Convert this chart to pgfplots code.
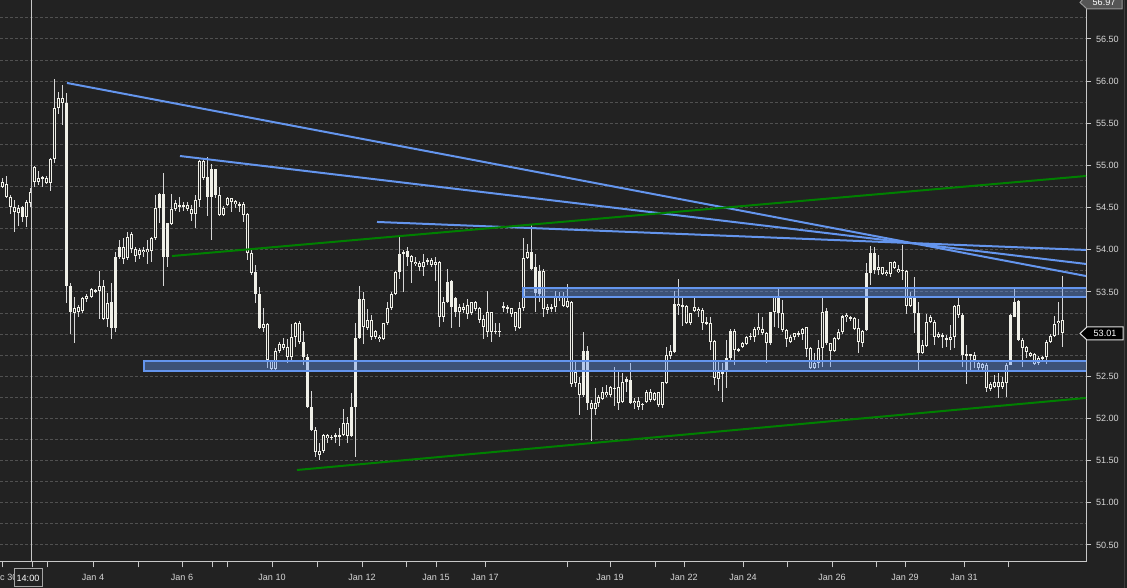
\documentclass[border=0pt]{standalone}
\usepackage{pgfplots}
\pgfplotsset{compat=1.18}
\usepackage{pgfplotstable}
\usepackage{fontspec}
\setmainfont{Liberation Sans}

\definecolor{bg}{RGB}{34,34,34}
\definecolor{gridc}{RGB}{80,80,80}
\definecolor{axisc}{RGB}{200,200,200}
\definecolor{labc}{RGB}{215,215,215}
\definecolor{wick}{RGB}{215,215,215}
\definecolor{body}{RGB}{240,240,232}
\definecolor{tline}{RGB}{100,149,237}
\definecolor{gline}{RGB}{0,128,0}
\definecolor{boxline}{RGB}{165,165,165}
\definecolor{lastline}{RGB}{225,225,225}
\definecolor{topfill}{RGB}{85,85,85}
\definecolor{topline}{RGB}{150,150,150}
\definecolor{edge}{RGB}{60,60,60}

% x = bar position on the time axis, o h l c = open high low close, f = filled body
\pgfplotstableread{
x o h l c f
3 54.80 54.85 54.73 54.74 0
7 54.78 54.88 54.61 54.63 0
11 54.63 54.65 54.42 54.51 0
15 54.51 54.59 54.21 54.45 0
19 54.44 54.53 54.28 54.50 0
23 54.51 54.52 54.33 54.39 1
27 54.39 54.59 54.27 54.57 0
31 54.55 54.73 54.51 54.69 0
35 54.80 54.99 54.74 54.98 0
39 54.85 54.93 54.77 54.80 0
43 54.84 54.87 54.74 54.86 0
47 54.85 54.87 54.78 54.79 0
51 54.79 55.09 54.70 55.08 0
55 55.08 56.03 55.03 55.68 0
59 55.68 55.87 55.61 55.80 0
63 55.80 55.95 55.48 55.74 0
67 55.74 55.86 53.37 53.57 1
71 53.57 53.61 53.00 53.26 1
75 53.25 53.44 52.90 53.31 0
79 53.26 53.35 53.20 53.32 0
83 53.27 53.44 53.25 53.43 0
87 53.42 53.48 53.38 53.45 0
91 53.44 53.55 53.43 53.54 0
95 53.52 53.54 53.49 53.51 0
99 53.51 53.75 53.18 53.57 0
103 53.57 53.64 53.17 53.18 0
107 53.18 53.49 53.08 53.37 0
111 53.38 53.61 52.94 53.07 1
115 53.07 53.97 53.03 53.92 1
119 53.92 54.12 53.89 54.03 1
123 54.03 54.14 53.83 53.89 0
127 53.90 54.21 53.88 54.15 0
131 54.19 54.21 53.96 54.01 0
135 54.01 54.03 53.86 53.93 0
139 53.94 54.02 53.89 54.00 0
143 54.00 54.03 53.91 53.97 0
147 53.97 54.12 53.83 54.01 0
151 53.99 54.15 53.86 54.14 0
155 54.14 54.65 54.12 54.50 0
159 54.50 54.67 54.32 54.66 1
163 54.66 54.91 53.57 53.92 1
167 53.92 54.32 53.80 54.32 1
171 54.31 54.66 54.29 54.48 0
175 54.48 54.59 54.46 54.56 0
179 54.53 54.63 54.45 54.51 0
183 54.51 54.57 54.46 54.53 0
187 54.53 54.57 54.46 54.48 0
191 54.48 54.53 54.34 54.42 0
195 54.42 54.65 54.26 54.59 0
199 54.59 55.07 54.51 55.05 0
203 55.05 55.09 54.83 54.85 0
207 54.86 55.10 54.40 54.63 1
211 54.63 55.02 54.12 54.96 1
215 54.96 54.96 54.61 54.65 1
219 54.65 54.74 54.40 54.41 0
223 54.41 54.52 54.40 54.50 0
227 54.53 54.63 54.52 54.61 0
231 54.61 54.62 54.45 54.57 0
235 54.58 54.59 54.50 54.54 0
239 54.54 54.57 54.45 54.53 0
243 54.54 54.57 54.33 54.41 0
247 54.42 54.44 53.88 53.96 0
251 53.96 54.00 53.70 53.73 0
255 53.74 53.82 53.37 53.48 1
259 53.48 53.56 53.06 53.07 1
263 53.07 53.31 53.03 53.12 0
267 53.12 53.13 52.60 52.69 0
271 52.69 52.69 52.58 52.59 0
275 52.59 52.84 52.58 52.80 0
279 52.80 52.91 52.78 52.88 0
283 52.88 52.95 52.81 52.84 0
287 52.85 52.94 52.66 52.73 0
291 52.73 53.12 52.69 52.97 0
295 52.97 53.14 52.85 53.13 0
299 53.13 53.16 52.88 52.91 0
303 52.91 53.04 52.63 52.73 1
307 52.73 52.77 52.12 52.14 1
311 52.14 52.33 51.85 51.86 1
315 51.86 51.90 51.54 51.60 0
319 51.57 51.71 51.51 51.61 0
323 51.61 51.82 51.59 51.80 0
327 51.80 51.82 51.71 51.77 0
331 51.77 51.80 51.75 51.78 0
335 51.78 51.83 51.71 51.80 0
339 51.79 51.89 51.67 51.80 0
343 51.80 52.11 51.79 51.95 0
347 51.95 52.02 51.71 51.79 0
351 51.79 52.30 51.78 52.14 1
355 52.14 53.13 51.54 52.95 1
359 52.95 53.57 52.94 53.42 1
363 53.42 53.50 52.88 53.08 0
367 53.07 53.30 53.05 53.17 0
371 53.17 53.23 52.93 52.97 0
375 52.97 53.05 52.94 53.04 0
379 52.97 52.99 52.91 52.94 0
383 52.94 53.13 52.93 53.13 0
387 53.13 53.38 53.11 53.31 0
391 53.31 53.50 53.29 53.48 0
395 53.48 53.75 53.46 53.74 0
399 53.74 54.18 53.65 53.95 1
403 53.95 54.00 53.50 53.97 0
407 53.99 54.03 53.81 53.92 1
411 53.93 53.94 53.61 53.86 0
415 53.86 53.91 53.81 53.83 0
419 53.84 53.87 53.75 53.80 0
423 53.80 53.95 53.69 53.86 0
427 53.86 53.90 53.82 53.88 0
431 53.88 53.90 53.80 53.82 0
435 53.82 53.91 53.63 53.86 0
439 53.86 53.87 53.08 53.20 0
443 53.20 53.44 53.14 53.38 0
447 53.38 53.77 53.37 53.62 1
451 53.63 53.64 53.07 53.32 1
455 53.43 53.44 53.20 53.26 1
459 53.26 53.36 53.08 53.32 0
463 53.32 53.37 53.25 53.29 0
467 53.34 53.42 53.18 53.24 0
471 53.25 53.38 53.23 53.38 0
475 53.38 53.39 53.27 53.30 0
479 53.31 53.32 53.13 53.17 0
483 53.18 53.23 52.94 53.08 0
487 53.03 53.51 52.97 53.26 0
491 53.26 53.26 52.91 53.03 0
495 53.03 53.13 53.00 53.04 0
499 53.04 53.13 52.97 53.03 0
503 53.33 53.38 53.26 53.31 0
507 53.30 53.35 53.25 53.32 0
511 53.31 53.31 53.20 53.24 0
515 53.26 53.26 53.04 53.08 0
519 53.07 53.38 53.06 53.31 0
523 53.31 54.14 53.27 53.90 0
527 53.90 54.07 53.89 53.97 0
531 53.97 54.29 53.76 53.77 1
535 53.80 53.95 53.26 53.49 1
539 53.48 53.82 53.38 53.75 1
543 53.75 53.77 53.20 53.30 0
547 53.29 53.36 53.24 53.32 0
551 53.32 53.36 53.26 53.31 0
555 53.32 53.51 53.26 53.45 0
559 53.44 53.50 53.39 53.45 0
563 53.44 53.50 53.32 53.33 0
567 53.32 53.59 53.31 53.39 0
571 53.38 53.39 52.37 52.41 0
575 52.55 52.67 52.37 52.42 0
579 52.42 52.49 52.04 52.28 0
583 52.28 53.03 52.25 52.80 1
587 52.80 52.86 52.10 52.18 1
591 52.18 52.22 51.73 52.11 0
595 52.11 52.36 52.04 52.18 0
598 52.18 52.28 52.14 52.25 0
602 52.23 52.37 52.22 52.31 0
606 52.31 52.40 52.25 52.28 0
610 52.28 52.38 52.25 52.37 0
614 52.36 52.61 52.15 52.36 0
618 52.37 52.55 52.10 52.18 0
622 52.20 52.54 52.18 52.43 0
626 52.43 52.49 52.31 52.47 1
630 52.46 52.66 52.17 52.18 1
634 52.18 52.24 52.11 52.21 0
638 52.21 52.25 52.10 52.14 0
642 52.17 52.18 52.10 52.17 0
646 52.20 52.34 52.18 52.31 0
650 52.31 52.35 52.20 52.22 0
654 52.22 52.31 52.21 52.30 0
658 52.31 52.31 52.14 52.16 0
662 52.16 52.43 52.12 52.43 0
666 52.42 52.85 52.41 52.75 0
670 52.74 52.87 52.71 52.80 0
674 52.79 53.51 52.78 53.36 1
678 53.36 53.65 53.23 53.33 0
682 53.34 53.43 53.10 53.32 0
686 53.33 53.35 53.12 53.13 0
690 53.13 53.25 53.11 53.25 0
694 53.27 53.43 53.26 53.32 0
698 53.30 53.32 53.20 53.27 0
702 53.29 53.31 53.05 53.13 0
706 53.12 53.20 53.11 53.14 0
710 53.13 53.20 52.81 52.91 0
714 52.92 52.93 52.40 52.48 0
718 52.47 52.67 52.33 52.55 0
722 52.55 52.66 52.20 52.54 0
726 52.55 52.93 52.36 52.72 1
730 52.72 53.06 52.67 53.04 1
734 53.04 53.06 52.63 52.81 0
738 52.82 52.84 52.79 52.80 0
742 52.85 52.91 52.84 52.89 0
746 52.88 52.98 52.87 52.97 0
750 52.97 53.01 52.93 52.98 0
754 52.97 53.08 52.91 53.06 0
758 53.05 53.25 52.99 53.08 0
762 53.06 53.20 52.99 53.01 0
766 53.02 53.03 52.66 52.90 0
770 52.90 53.26 52.87 53.26 1
774 53.26 53.44 53.08 53.44 0
778 53.44 53.54 53.07 53.25 1
782 53.25 53.40 53.03 53.05 0
786 53.05 53.06 52.85 52.94 0
790 52.97 52.99 52.89 52.91 0
794 52.97 53.02 52.93 53.01 0
798 53.01 53.04 52.97 52.99 0
802 53.00 53.07 52.93 53.06 0
806 53.08 53.08 52.73 52.82 0
810 52.84 52.85 52.59 52.60 0
814 52.60 52.78 52.59 52.66 0
818 52.66 52.93 52.60 52.84 0
822 52.84 53.43 52.61 53.26 0
826 53.27 53.31 52.87 52.90 1
830 52.89 52.90 52.61 52.80 0
834 52.80 52.97 52.79 52.95 0
838 52.94 53.06 52.93 53.03 0
842 53.03 53.23 53.00 53.21 0
846 53.20 53.25 53.14 53.23 0
850 53.20 53.21 53.16 53.18 0
854 53.19 53.20 53.05 53.06 0
858 53.07 53.18 52.78 52.91 0
862 52.90 53.05 52.85 53.04 0
866 53.05 53.84 53.04 53.73 1
870 53.73 54.05 53.58 53.96 1
874 53.96 54.03 53.71 53.76 1
878 53.76 53.94 53.70 53.80 0
882 53.80 53.80 53.70 53.71 0
886 53.71 53.76 53.69 53.74 0
890 53.71 53.86 53.68 53.86 0
894 53.86 53.87 53.77 53.78 0
898 53.77 53.82 53.73 53.74 0
902 53.76 54.06 53.64 53.76 0
906 53.75 53.76 53.24 53.33 0
910 53.33 53.50 53.32 53.43 0
914 53.43 53.68 53.01 53.25 1
918 53.25 53.38 52.58 52.78 1
922 52.78 52.93 52.76 52.87 0
926 52.86 53.24 52.85 53.14 0
930 53.14 53.23 53.13 53.20 0
934 53.14 53.17 52.87 52.97 0
938 52.97 53.03 52.95 53.00 0
942 52.99 53.01 52.84 52.97 0
946 52.95 52.99 52.85 52.93 0
950 52.93 53.11 52.81 52.97 0
954 52.97 53.35 52.84 53.33 0
958 53.35 53.43 53.19 53.23 0
962 53.23 53.25 52.61 52.75 1
966 52.76 52.87 52.41 52.74 0
970 52.74 52.76 52.58 52.76 0
974 52.75 52.79 52.60 52.69 0
978 52.66 52.67 52.58 52.60 0
982 52.60 52.66 52.58 52.65 0
986 52.63 52.66 52.31 52.36 0
990 52.35 52.43 52.33 52.41 0
994 52.43 52.52 52.36 52.37 0
998 52.37 52.54 52.24 52.43 0
1002 52.43 52.49 52.35 52.37 0
1006 52.42 52.66 52.25 52.63 0
1010 52.63 53.24 52.63 53.23 1
1014 53.20 53.53 53.20 53.38 1
1018 53.39 53.41 52.92 52.93 1
1022 52.93 52.95 52.61 52.84 0
1026 52.85 52.86 52.72 52.79 0
1030 52.78 52.79 52.73 52.74 0
1034 52.76 52.78 52.63 52.65 0
1038 52.66 52.74 52.63 52.72 0
1042 52.71 52.74 52.70 52.73 0
1046 52.73 52.93 52.65 52.91 0
1050 52.91 53.00 52.90 52.98 0
1054 52.98 53.21 52.97 53.12 0
1058 53.13 53.38 52.99 53.16 0
1062 53.17 53.69 52.85 53.01 0
}\candles

\begin{document}
\begin{tikzpicture}
\useasboundingbox (0,0) rectangle (845.25pt,441pt);
\clip (0,0) rectangle (845.25pt,441pt);
\fill[bg] (0,0) rectangle (845.25pt,441pt);
\begin{axis}[
    at={(0pt,19.5pt)}, anchor=south west,
    scale only axis, width=814.5pt, height=421.5pt,
    xmin=0, xmax=1086, ymin=50.298, ymax=56.962,
    axis x line*=bottom, axis y line*=right,
    axis line style={axisc, line width=0.75pt, -},
    tick align=outside,
    major tick length=4pt, minor tick length=4pt,
    tick style={axisc, line width=0.75pt},
    minor y tick style={draw=none},
    xtick={3,93,182,272,362,436,485,610,684,743,832,905,964},
    xticklabels={Dec 30,Jan 4,Jan 6,Jan 10,Jan 12,Jan 15,Jan 17,Jan 19,Jan 22,Jan 24,Jan 26,Jan 29,Jan 31},
    minor xtick={33,48,138,212,227,317,406,567,655,787,876,1008},
    ytick={50.5,51,51.5,52,52.5,53,53.5,54,54.5,55,55.5,56,56.5},
    minor ytick={50.75,51.25,51.75,52.25,52.75,53.25,53.75,54.25,54.75,55.25,55.75,56.25,56.75},
    ymajorgrids, yminorgrids,
    major grid style={gridc, line width=0.75pt, dash pattern=on 2.25pt off 1.5pt},
    minor grid style={gridc, line width=0.75pt, dash pattern=on 2.25pt off 1.5pt},
    ticklabel style={font=\fontsize{6.8}{8}\selectfont, text=labc},
    xticklabel style={yshift=-1.5pt},
    yticklabel style={anchor=west},
    /pgf/number format/.cd, fixed, fixed zerofill, precision=2, assume math mode=true,
  ]
  % wicks
  \addplot[draw=none, mark=none, error bars/.cd, y dir=both, y explicit, error mark=none,
    error bar style={draw=wick, line width=0.75pt}]
    table[x=x, y expr={(\thisrow{h}+\thisrow{l})/2}, y error expr={(\thisrow{h}-\thisrow{l})/2}] {\candles};
  % bodies
  \addplot[draw=none, mark=none, error bars/.cd, y dir=both, y explicit, error mark=none,
    error bar style={draw=body, line width=2.25pt}]
    table[x=x, y expr={(\thisrow{o}+\thisrow{c})/2}, y error expr={max(abs(\thisrow{o}-\thisrow{c})/2,0.006)}] {\candles};
  % hollow bodies
  \addplot[draw=none, mark=none, restrict expr to domain={\thisrow{f}}{-0.5:0.5},
    error bars/.cd, y dir=both, y explicit, error mark=none,
    error bar style={draw=bg, line width=0.75pt}]
    table[x=x, y expr={(\thisrow{o}+\thisrow{c})/2}, y error expr={max(abs(\thisrow{o}-\thisrow{c})/2-0.0119,0)}] {\candles};

  % support / resistance zones
  \addplot[draw=tline, line width=1.5pt, fill=tline, fill opacity=0.42]
    coordinates {(144,52.681) (1092,52.681) (1092,52.563) (144,52.563)} -- cycle;
  \addplot[draw=tline, line width=1.5pt, fill=tline, fill opacity=0.42]
    coordinates {(523,53.547) (1092,53.547) (1092,53.440) (523,53.440)} -- cycle;

  % trend lines
  \addplot[tline, line width=1.5pt] coordinates {(67,55.978) (1086,53.689)};
  \addplot[tline, line width=1.5pt] coordinates {(180,55.112) (1086,53.832)};
  \addplot[tline, line width=1.5pt] coordinates {(377,54.330) (1086,53.998)};
  \addplot[gline, line width=1.5pt] coordinates {(172,53.926) (1086,54.875)};
  \addplot[gline, line width=1.5pt] coordinates {(297,51.389) (1086,52.243)};
\end{axis}

\begin{scope}[x=0.75pt, y=0.75pt]
  % crosshair
  \draw[axisc, line width=0.75pt] (31,26) -- (31,588);
  \draw[fill=bg, draw=boxline, line width=0.75pt] (14,1) rectangle (42,19);
  \node[text=white, font=\fontsize{6.8}{8}\selectfont] at (28,10) {14:00};
  % last price
  \draw[fill=black, draw=lastline, line width=0.75pt]
    (1080,254.5) -- (1087,261) -- (1123,261) -- (1123,248) -- (1087,248) -- cycle;
  \node[text=white, font=\fontsize{6.8}{8}\selectfont] at (1105,254.5) {53.01};
  % top price marker
  \draw[fill=topfill, draw=topline, line width=0.75pt]
    (1080,585.5) -- (1087,579) -- (1122,579) -- (1122,594) -- (1087,594) -- cycle;
  \node[text=white, font=\fontsize{6.8}{8}\selectfont] at (1104,585.5) {56.97};
  \draw[edge, line width=0.75pt] (1124.5,0) -- (1124.5,588);
\end{scope}
\end{tikzpicture}
\end{document}
